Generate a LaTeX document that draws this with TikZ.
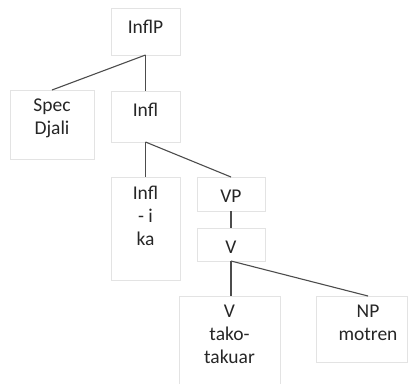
\documentclass[tikz,border=0pt]{standalone}
\usepackage{fontspec}
\setmainfont{Carlito}
\usepackage{tikz}
\usetikzlibrary{%
  positioning
}
\tikzset{
  box/.style = {draw = gray!22, line width = 0.8pt, inner sep = 0, outer sep = 0},
  word/.style = {anchor = north, align = center, inner sep = 0, text = black!85,
    execute at begin node = \strut, yshift = -8.9pt},
  branch/.style = {draw = black!70, line width = 1.1pt}
}

\begin{document}
\begin{tikzpicture}[
      x = 1pt, y = -1pt,
      font = \fontsize{19.5}{23}\selectfont
      ]
      \useasboundingbox (0,0) rectangle (409,383);
      \node (inflp) [box, anchor = north west, minimum width = 69pt, minimum height = 47pt,
        label = {[word]north:InflP}] at (111,8) {};
      \node (spec) [box, anchor = north west, minimum width = 84pt, minimum height = 69pt,
        label = {[word]north:{Spec\\Djali}}] at (10,90) {};
      \node (infl) [box, anchor = north west, minimum width = 69pt, minimum height = 51pt,
        label = {[word]north:Infl}] at (111,91) {};
      \node (infli) [box, anchor = north west, minimum width = 69pt, minimum height = 103pt,
        label = {[word]north:{Infl\\- i\\ka}}] at (111,177) {};
      \node (vp) [box, anchor = north west, minimum width = 68pt, minimum height = 34pt,
        label = {[word]north:VP}] at (197,177) {};
      \node (v) [box, below = 17pt of vp, minimum width = 68pt, minimum height = 33pt,
        label = {[word]north:V}] {};
      \node (vtk) [box, anchor = north west, minimum width = 101pt, minimum height = 100pt,
        label = {[word]north:{V\\tako-\\takuar}}] at (179,296) {};
      \node (np) [box, anchor = north west, minimum width = 91pt, minimum height = 66pt,
        label = {[word, xshift = 6.5pt]north:{NP\\motren}}] at (316,296) {};
      % branches
      \draw [branch] (inflp.south) -- (spec.north);
      \draw [branch] (inflp.south) -- (infl.north);
      \draw [branch] (infl.south) -- (infli.north);
      \draw [branch] (infl.south) -- (vp.north);
      \draw [branch] (vp.south) -- (v.north);
      \draw [branch] (v.south) -- (v.south |- vtk.north);
      \draw [branch] (v.south) -- ([xshift = 6.5pt]np.north);
    \end{tikzpicture}
\end{document}
